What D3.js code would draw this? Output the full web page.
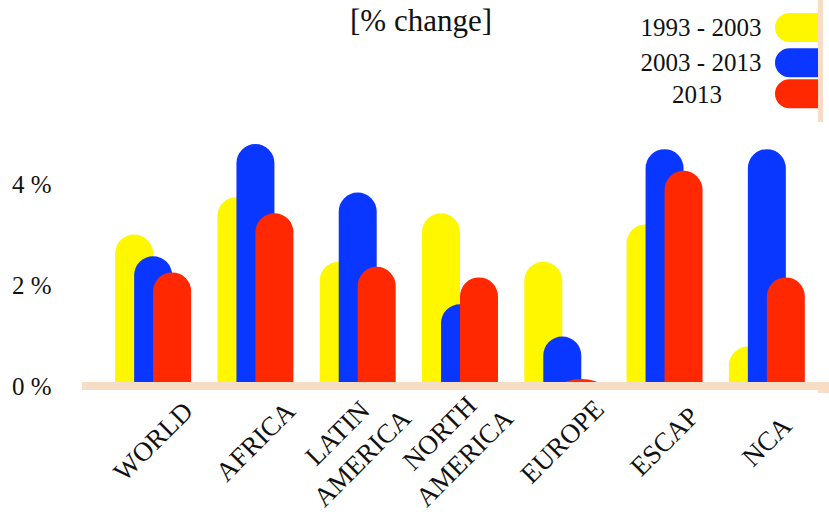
<!DOCTYPE html>
<html>
<head>
<meta charset="utf-8">
<script src="https://cdn.jsdelivr.net/npm/d3@7"></script>
<style>
  html, body { margin: 0; padding: 0; background: #ffffff; }
  svg { display: block; }
  text { font-family: "Liberation Serif", "DejaVu Serif", serif; fill: #111; }
</style>
</head>
<body>
<svg id="chart" width="829" height="512"></svg>
<script>
// ---- data ----
const categories = ["WORLD", "AFRICA", "LATIN AMERICA", "NORTH AMERICA", "EUROPE", "ESCAP", "NCA"];
const categoryLines = [["WORLD"], ["AFRICA"], ["LATIN", "AMERICA"], ["NORTH", "AMERICA"], ["EUROPE"], ["ESCAP"], ["NCA"]];
const seriesNames = ["1993 - 2003", "2003 - 2013", "2013"];
const values1993_2003 = [3.0, 3.74, 2.46, 3.42, 2.46, 3.2, 0.78];
const values2003_2013 = [2.57, 4.79, 3.83, 1.62, 0.98, 4.69, 4.69];
const values2013 = [2.25, 3.42, 2.36, 2.15, 0.14, 4.26, 2.15];
const yTickValues = [0, 2, 4];
const yTickLabels = ["0 %", "2 %", "4 %"];
const titleText = "[% change]";

// ---- styles ----
const colors = ["#fff700", "#0a37ff", "#ff2800"];
const peach = "#f8ddc6";

const series = [values1993_2003, values2003_2013, values2013];
const svg = d3.select("#chart");

const x0 = d3.scaleBand().domain(categories).range([102, 818])
  .paddingInner(0.2573).paddingOuter(0.1287);
const x1 = d3.scalePoint().domain(seriesNames).range([0, x0.bandwidth() / 2]);
const barW = x0.bandwidth() / 2;
const y = d3.scaleLinear().domain([0, 4]).range([386, 184]);

// title
svg.append("text").attr("x", 421).attr("y", 20)
  .attr("text-anchor", "middle").attr("dominant-baseline", "central")
  .style("font-size", "31px").text(titleText);

// bars with rounded tops
function barPath(xl, yt, w, yb) {
  const h = yb - yt;
  const rx = w / 2, ry = Math.min(w / 2, h);
  return `M${xl},${yb} L${xl},${yt + ry} A${rx},${ry} 0 0 1 ${xl + rx},${yt} A${rx},${ry} 0 0 1 ${xl + w},${yt + ry} L${xl + w},${yb} Z`;
}

seriesNames.forEach((name, si) => {
  svg.append("g").selectAll("path")
    .data(categories.map((c, i) => ({ c, v: series[si][i] })))
    .join("path")
    .attr("d", d => barPath(x0(d.c) + x1(name), y(d.v), barW, y(0)))
    .attr("fill", colors[si]);
});

// axis band
svg.append("rect").attr("x", 82).attr("y", 382).attr("width", 736).attr("height", 8).attr("fill", peach);
svg.append("rect").attr("x", 818).attr("y", 382).attr("width", 11).attr("height", 11).attr("fill", peach);

// y tick labels
svg.append("g").selectAll("text").data(yTickValues).join("text")
  .attr("x", 12).attr("y", d => y(d))
  .attr("dominant-baseline", "central")
  .style("font-size", "25px")
  .text((d, i) => yTickLabels[i]);

// x labels rotated
const lineGap = 35;
categories.forEach((c, i) => {
  const cx = x0(c) + x0.bandwidth() / 2;
  const lines = categoryLines[i];
  const n = lines.length;
  const shift = n > 1 ? -8 : 0;
  const t = svg.append("text")
    .attr("transform", `translate(${cx + shift},${441.5 + (n > 1 ? 4 : 0)}) rotate(-45)`)
    .attr("text-anchor", "middle")
    .style("font-size", "27px");
  lines.forEach((ln, j) => {
    t.append("tspan").attr("x", 0)
      .attr("y", (j - (n - 1) / 2) * lineGap + 9)
      .text(ln);
  });
});

// legend
const legendY = [27.5, 62.8, 93.8];
seriesNames.forEach((name, i) => {
  const yc = legendY[i];
  svg.append("text").attr("x", i === 2 ? 697 : 701).attr("y", i === 2 ? yc + 1 : yc)
    .attr("text-anchor", "middle").attr("dominant-baseline", "central")
    .style("font-size", "25px").text(name);
  const h = 29, r = 14.5, xl = 775, xr = 818;
  svg.append("path")
    .attr("d", `M${xr},${yc - h / 2} L${xl + r},${yc - h / 2} A${r},${r} 0 0 0 ${xl + r},${yc + h / 2} L${xr},${yc + h / 2} Z`)
    .attr("fill", colors[i]);
});
svg.append("rect").attr("x", 818).attr("y", 0).attr("width", 5).attr("height", 122).attr("fill", peach);
</script>
</body>
</html>
